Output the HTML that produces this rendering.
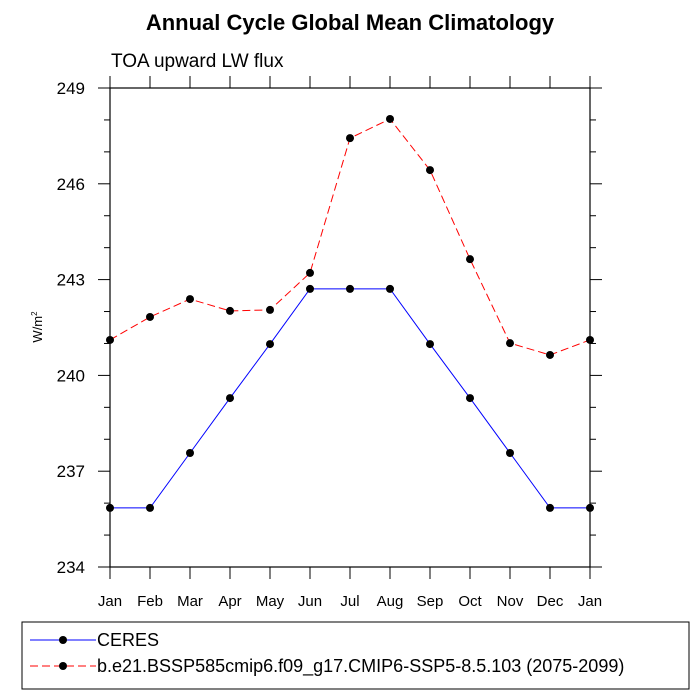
<!DOCTYPE html>
<html><head><meta charset="utf-8"><style>
body{margin:0;background:#fff}
svg{display:block;font-family:"Liberation Sans",sans-serif}
</style></head><body>
<svg id="chart" width="700" height="700" viewBox="0 0 700 700">
<text x="350" y="30" text-anchor="middle" font-size="22" font-weight="bold">Annual Cycle Global Mean Climatology</text>
<text x="111" y="67" font-size="19">TOA upward LW flux</text>
<text transform="translate(42,327) rotate(-90)" text-anchor="middle" font-size="13">W/m<tspan font-size="8" dy="-5">2</tspan></text>
<g id="axes"></g>
<g id="series"></g>
<rect x="22" y="622" width="667" height="67" fill="none" stroke="#000"/>
<g>
<line x1="30" y1="640" x2="96" y2="640" stroke="#00f" stroke-width="1"/>
<circle cx="63" cy="640" r="4" fill="#000"/>
<text x="97" y="646" font-size="18">CERES</text>
</g>
<g>
<line x1="30" y1="666" x2="96" y2="666" stroke="#f00" stroke-width="1" stroke-dasharray="8,4"/>
<circle cx="63" cy="666" r="4" fill="#000"/>
<text x="97" y="672" font-size="18">b.e21.BSSP585cmip6.f09_g17.CMIP6-SSP5-8.5.103 (2075-2099)</text>
</g>
</svg>
<script>
const months = ["Jan","Feb","Mar","Apr","May","Jun","Jul","Aug","Sep","Oct","Nov","Dec","Jan"];
const ceresValues = [235.85,235.85,237.57,239.29,240.98,242.71,242.71,242.71,240.98,239.29,237.57,235.85,235.85];
const modelValues = [241.11,241.83,242.39,242.02,242.05,243.21,247.43,248.03,246.43,243.64,241.01,240.64,241.11];
const yTicks = [234,237,240,243,246,249];
const yMin = 234, yMax = 249;
const L=110,R=590,T=88,B=567;
const NS="http://www.w3.org/2000/svg";
function xs(i){return L+(R-L)*i/(months.length-1);}
function ys(v){return B-(B-T)*(v-yMin)/(yMax-yMin);}
function mk(tag,attrs,parent){const e=document.createElementNS(NS,tag);for(const k in attrs)e.setAttribute(k,attrs[k]);parent.appendChild(e);return e;}
const ax=document.getElementById('axes');
const frame=mk('rect',{x:L,y:T,width:R-L,height:B-T,fill:'none',stroke:'#000','stroke-width':1.2},ax);


for(let v=yMin;v<=yMax;v++){
  const major=yTicks.includes(v);const len=major?12:6;const y=ys(v);
  mk('line',{x1:L,y1:y,x2:L-len,y2:y,stroke:'#000'},ax);
  mk('line',{x1:R,y1:y,x2:R+len,y2:y,stroke:'#000'},ax);
}
yTicks.forEach(v=>{
  const t=mk('text',{x:L-25,y:ys(v)+6,'text-anchor':'end','font-size':17},ax);t.textContent=v;
  
  
});
months.forEach((m,i)=>{
  const x=xs(i);
  mk('line',{x1:x,y1:B,x2:x,y2:B+12,stroke:'#000'},ax);
  mk('line',{x1:x,y1:T,x2:x,y2:T-12,stroke:'#000'},ax);
  const t=mk('text',{x:x,y:B+39,'text-anchor':'middle','font-size':15},ax);t.textContent=m;
  
  
});
const sg=document.getElementById('series');
function drawSeries(vals,color,dash,name){
  const pts=vals.map((v,i)=>xs(i)+','+ys(v)).join(' ');
  const pl=mk('polyline',{points:pts,fill:'none',stroke:color,'stroke-width':1,'stroke-dasharray':dash},sg);
  
  
  vals.forEach((v,i)=>{
    const c=mk('circle',{cx:xs(i),cy:ys(v),r:4,fill:'#000'},sg);
    
    
  });
}
drawSeries(ceresValues,'#00f','none','ceres');
drawSeries(modelValues,'#f00','8,4','model');
</script>
</body></html>
